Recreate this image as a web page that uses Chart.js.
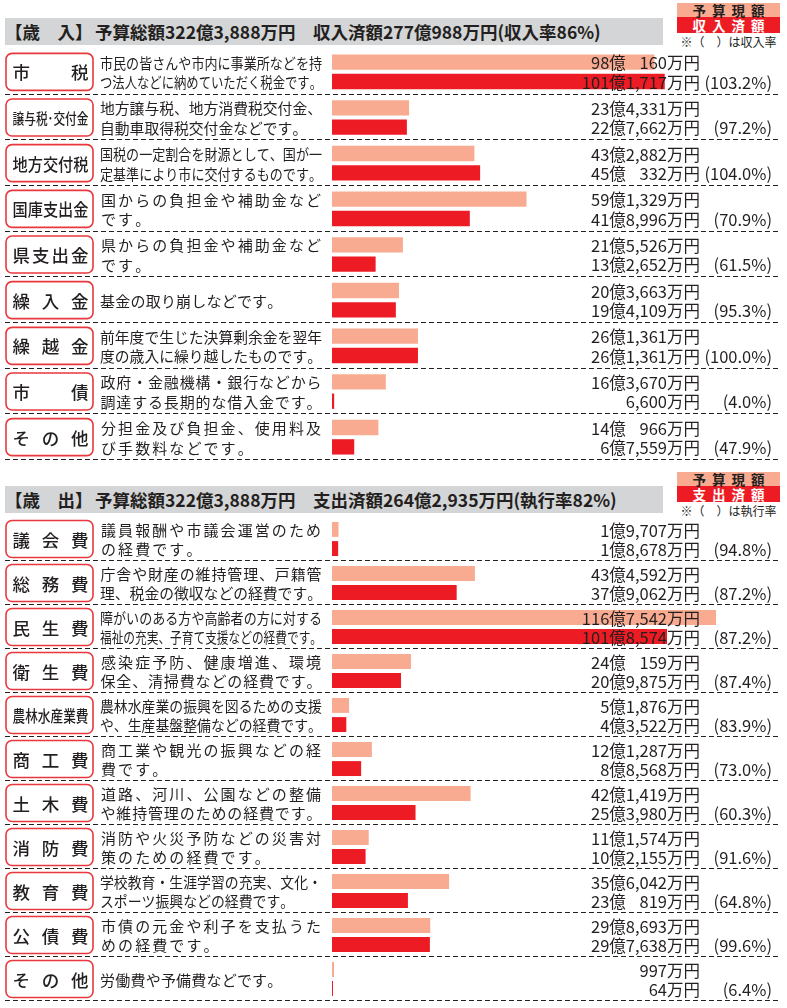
<!DOCTYPE html>
<html><head><meta charset="utf-8">
<script src="https://cdn.jsdelivr.net/npm/chart.js@4.4.1/dist/chart.umd.min.js"></script>
<style>
body{margin:0;background:#fff;font-family:'Noto Sans CJK JP',sans-serif;color:#231f20}
#page{position:relative;width:787px;height:1008px;overflow:hidden;background:#fff}
.hdr{position:absolute;left:5px;width:658px;height:27px;background:#d4d5d6;font-weight:bold;font-size:17.5px;line-height:27px;white-space:nowrap}
.hdr span{position:absolute;top:0}
.lg{position:absolute;left:677px;width:103px}
.lg .a,.lg .b{text-align:center;font-weight:bold;font-size:13.5px;letter-spacing:6px;padding-left:6px;box-sizing:border-box;white-space:nowrap}
.lg .a{background:#f8ab91;height:14px;line-height:14px;color:#231f20}
.lg .b{background:#ed1c24;height:16px;line-height:16px;color:#fff}
.lg .c{text-align:center;font-size:12px;line-height:14px;margin-top:2px;white-space:nowrap}
canvas{position:absolute;left:0}
</style></head>
<body><div id="page">
<div class="lg" style="top:3px"><div class="a">予算現額</div><div class="b">収入済額</div><div class="c">※（　）は収入率</div></div>
<div class="hdr" style="top:18px"><span style="left:0">【歳　入】</span><span style="left:90px">予算総額322億3,888万円</span><span style="left:308px">収入済額277億988万円(収入率86%)</span></div>
<canvas id="c1" width="787" height="416" style="top:47px;width:787px;height:416px"></canvas>
<div class="lg" style="top:472px"><div class="a">予算現額</div><div class="b">支出済額</div><div class="c">※（　）は執行率</div></div>
<div class="hdr" style="top:486px"><span style="left:0">【歳　出】</span><span style="left:90px">予算総額322億3,888万円</span><span style="left:308px">支出済額264億2,935万円(執行率82%)</span></div>
<canvas id="c2" width="787" height="490" style="top:515px;width:787px;height:490px"></canvas>
</div>
<script>
// ---- data (values in 万円) ----
const revCategories = ['市税','譲与税･交付金','地方交付税','国庫支出金','県支出金','繰入金','繰越金','市債','その他'];
const revNotes = [
  ['市民の皆さんや市内に事業所などを持','つ法人などに納めていただく税金です。'],
  ['地方譲与税、地方消費税交付金、','自動車取得税交付金などです。'],
  ['国税の一定割合を財源として、国が一','定基準により市に交付するものです。'],
  ['国からの負担金や補助金など','です。'],
  ['県からの負担金や補助金など','です。'],
  ['基金の取り崩しなどです。'],
  ['前年度で生じた決算剰余金を翌年','度の歳入に繰り越したものです。'],
  ['政府・金融機構・銀行などから','調達する長期的な借入金です。'],
  ['分担金及び負担金、使用料及','び手数料などです。']
];
const revBudget = [980160, 234331, 432882, 591329, 215526, 203663, 261361, 163670, 140966];
const revActual = [1011717, 227662, 450332, 418996, 132652, 194109, 261361, 6600, 67559];
const revRate = [103.2, 97.2, 104.0, 70.9, 61.5, 95.3, 100.0, 4.0, 47.9];

const expCategories = ['議会費','総務費','民生費','衛生費','農林水産業費','商工費','土木費','消防費','教育費','公債費','その他'];
const expNotes = [
  ['議員報酬や市議会運営のため','の経費です。'],
  ['庁舎や財産の維持管理、戸籍管','理、税金の徴収などの経費です。'],
  ['障がいのある方や高齢者の方に対する','福祉の充実、子育て支援などの経費です。'],
  ['感染症予防、健康増進、環境','保全、清掃費などの経費です。'],
  ['農林水産業の振興を図るための支援','や、生産基盤整備などの経費です。'],
  ['商工業や観光の振興などの経','費です。'],
  ['道路、河川、公園などの整備','や維持管理のための経費です。'],
  ['消防や火災予防などの災害対','策のための経費です。'],
  ['学校教育・生涯学習の充実、文化・','スポーツ振興などの経費です。'],
  ['市債の元金や利子を支払うた','めの経費です。'],
  ['労働費や予備費などです。']
];
const expBudget = [19707, 434592, 1167542, 240159, 51876, 121287, 421419, 111574, 356042, 298693, 997];
const expActual = [18678, 379062, 1018574, 209875, 43522, 88568, 253980, 102155, 230819, 297638, 64];
const expRate = [94.8, 87.2, 87.2, 87.4, 83.9, 73.0, 60.3, 91.6, 64.8, 99.6, 6.4];

// ---- helpers ----
const INK = '#231f20', LIGHT = '#f8ab91', RED = '#ed1c24', BOXLINE = '#e8383d';
const FONT = "'Noto Sans CJK JP', sans-serif";

function fmtYen(v){
  const oku = Math.floor(v/10000), man = v % 10000;
  let s = '';
  if (oku > 0) {
    s += oku + '億';
    if (man === 0) return s + '円';
    if (man < 1000) s += '\u2007\u2008' + man;
    else s += Math.floor(man/1000) + ',' + String(man%1000).padStart(3,'0');
  } else {
    s += man >= 1000 ? Math.floor(man/1000) + ',' + String(man%1000).padStart(3,'0') : String(man);
  }
  return s + '万円';
}
function isHalf(ch){ const c = ch.charCodeAt(0); return c < 0x2000 || (c >= 0xFF61 && c <= 0xFF9F); }

function drawCells(ctx, text, x0, yc, adv, fs){
  const chars = [...text];
  const sc = Math.min(1, adv/fs);
  for (let k=0;k<chars.length;k++){
    ctx.save();
    ctx.translate(x0 + adv*k + adv/2, yc);
    ctx.scale(sc,1);
    ctx.fillText(chars[k],0,0);
    ctx.restore();
  }
}

function drawLabel(ctx, text, yc){
  const bx=6, bw=87, bh=37, by=yc-bh/2, r=6;
  ctx.save();
  ctx.beginPath();
  ctx.moveTo(bx+r,by); ctx.lineTo(bx+bw-r,by); ctx.arcTo(bx+bw,by,bx+bw,by+r,r);
  ctx.lineTo(bx+bw,by+bh-r); ctx.arcTo(bx+bw,by+bh,bx+bw-r,by+bh,r);
  ctx.lineTo(bx+r,by+bh); ctx.arcTo(bx,by+bh,bx,by+bh-r,r);
  ctx.lineTo(bx,by+r); ctx.arcTo(bx,by,bx+r,by,r); ctx.closePath();
  ctx.fillStyle='#fff'; ctx.fill();
  ctx.lineWidth=1.6; ctx.strokeStyle=BOXLINE; ctx.stroke();
  const chars=[...text]; const ws=chars.map(c=>isHalf(c)?0.5:1);
  const T=ws.reduce((a,b)=>a+b,0); const inner=76, x0=12.5, F=17.5;
  let fs=F, gap=0, unit=F, sc=1;
  const spread = T*F <= inner;
  if (spread){ gap = chars.length>1 ? (inner - T*F)/(chars.length-1) : 0; }
  else { unit = inner/T; fs = Math.min(F, unit*1.22); sc = Math.min(1, unit/fs); }
  ctx.font = '500 '+fs+'px '+FONT; ctx.fillStyle=INK; ctx.textAlign='center'; ctx.textBaseline='middle';
  let x=x0;
  chars.forEach((c,k)=>{
    const cw = ws[k]*(spread?F:unit);
    ctx.save(); ctx.translate(x+cw/2, yc+1); ctx.scale(sc,1); ctx.fillText(c,0,0); ctx.restore();
    x += cw + gap;
  });
  ctx.restore();
}

const rowsPlugin = {
  id:'rows',
  afterDatasetsDraw(chart, args, opts){
    const ctx=chart.ctx, ys=chart.scales.y;
    const n=chart.data.labels.length;
    const band=(ys.bottom-ys.top)/n;
    const m0=chart.getDatasetMeta(0).data, m1=chart.getDatasetMeta(1).data;
    const b0=chart.data.datasets[0].data, b1=chart.data.datasets[1].data;
    ctx.save();
    for (let i=0;i<n;i++){
      const yc=ys.getPixelForValue(i);
      drawLabel(ctx, chart.data.labels[i], yc);
      const lines=opts.notes[i], W=222, X0=100, fs=15;
      ctx.font=fs+'px '+FONT; ctx.fillStyle=INK; ctx.textAlign='center'; ctx.textBaseline='middle';
      if (lines.length===1){ drawCells(ctx, lines[0], X0, yc+1, 15.2, fs); }
      else {
        const a1=W/[...lines[0]].length;
        const a2=Math.min(a1, W/[...lines[1]].length);
        drawCells(ctx, lines[0], X0, m0[i].y+1, a1, fs);
        drawCells(ctx, lines[1], X0, m1[i].y+1, a2, fs);
      }
      ctx.font='16.5px '+FONT; ctx.textAlign='right'; ctx.textBaseline='middle'; ctx.fillStyle=INK;
      ctx.fillText(fmtYen(b0[i]), 700, m0[i].y+1);
      ctx.fillText(fmtYen(b1[i]), 700, m1[i].y+1);
      ctx.fillText('('+opts.rates[i].toFixed(1)+'%)', 772, m1[i].y+1);
      const yb=Math.round(yc+band/2)-0.5;
      ctx.beginPath(); ctx.setLineDash([5,3]); ctx.lineWidth=1.2; ctx.strokeStyle=INK;
      ctx.moveTo(5,yb); ctx.lineTo(778,yb); ctx.stroke(); ctx.setLineDash([]);
    }
    ctx.restore();
  }
};

function makeChart(id, cats, budget, actual, notes, rates, catPct, barPct, pad){
  return new Chart(document.getElementById(id), {
    type:'bar',
    data:{ labels:cats, datasets:[
      {label:'予算現額', data:budget, backgroundColor:LIGHT, minBarLength:2, categoryPercentage:catPct, barPercentage:barPct},
      {label:'済額', data:actual, backgroundColor:RED, minBarLength:1, categoryPercentage:catPct, barPercentage:barPct}
    ]},
    options:{
      indexAxis:'y', responsive:false, animation:false,
      layout:{padding:pad},
      scales:{ x:{display:false, min:0, max:1356000}, y:{display:false} },
      plugins:{ legend:{display:false}, tooltip:{enabled:false}, rows:{notes, rates} }
    },
    plugins:[rowsPlugin]
  });
}
makeChart('c1', revCategories, revBudget, revActual, revNotes, revRate, 0.85, 0.79, {left:332,right:9,top:2,bottom:3});
makeChart('c2', expCategories, expBudget, expActual, expNotes, expRate, 0.87, 0.78, {left:332,right:9,top:2,bottom:4});
</script>
</body></html>
